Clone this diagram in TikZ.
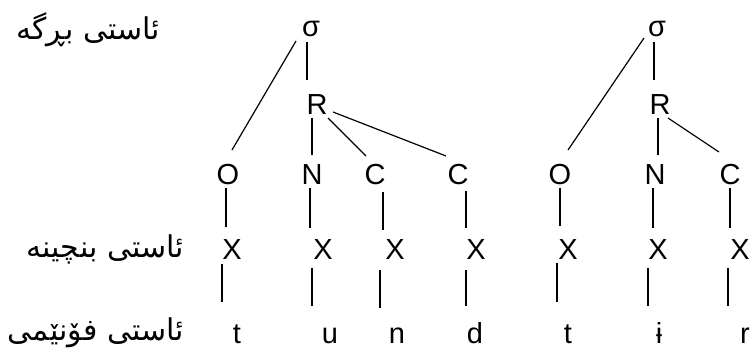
\documentclass[tikz,border=0pt]{standalone}
\usepackage{fontspec}
\setmainfont{Liberation Sans}
\newfontfamily\arabicfont[Script=Arabic]{DejaVu Sans}
\TeXXeTstate=1
\begin{document}
\begin{tikzpicture}[x=1pt,y=-1pt,
  lbl/.style={anchor=base,inner sep=0pt,font=\fontsize{29}{31}\selectfont},
  lev/.style={anchor=base east,inner sep=0pt,font=\arabicfont\fontsize{30}{34}\selectfont},
  br/.style={line width=1.2pt}]
\useasboundingbox (0,0) rectangle (754,352);
% level labels
\node[lev] (l1) at (160,40) {\beginR ئاستی بڕگە\endR};
\node[lev] (l2) at (184,258) {\beginR ئاستی بنچینە\endR};
\node[lev] (l3) at (184,340) {\beginR ئاستی فۆنێمی\endR};
% tree 1
\node[lbl] (s1) at (311,37) {σ};
\node[lbl] (r1) at (317,115) {R};
\node[lbl] (o1) at (228,185) {O};
\node[lbl] (n1) at (312,185) {N};
\node[lbl] (c1) at (375,185) {C};
\node[lbl] (c2) at (458,185) {C};
% tree 2
\node[lbl] (s2) at (657,37) {σ};
\node[lbl] (r2) at (660,115) {R};
\node[lbl] (o2) at (560,185) {O};
\node[lbl] (n2) at (655,185) {N};
\node[lbl] (c3) at (730,185) {C};
% skeleton
\node[lbl] (x1) at (232,260) {X};
\node[lbl] (x2) at (323,260) {X};
\node[lbl] (x3) at (395,260) {X};
\node[lbl] (x4) at (476,260) {X};
\node[lbl] (x5) at (568,260) {X};
\node[lbl] (x6) at (658,260) {X};
\node[lbl] (x7) at (740,260) {X};
% segments
\node[lbl] (p1) at (237,343) {t};
\node[lbl] (p2) at (330,343) {u};
\node[lbl] (p3) at (397,343) {n};
\node[lbl] (p4) at (475,343) {d};
\node[lbl] (p5) at (568,343) {t};
\node[lbl] (p6) at (659,343) {ɨ};
\node[lbl] (p7) at (745,343) {r};
% connectors tree 1
\draw[br] ([shift={(-15,4)}]s1.base) -- ([shift={(4,-35)}]o1.base);
\draw[br] ([shift={(-4,5)}]s1.base) -- ([shift={(-10,-35)}]r1.base);
\draw[br] ([shift={(-5,3)}]r1.base) -- ([shift={(0,-30)}]n1.base);
\draw[br] ([shift={(11,3)}]r1.base) -- ([shift={(-9,-29)}]c1.base);
\draw[br] ([shift={(16,-3)}]r1.base) -- ([shift={(-12,-29)}]c2.base);
\draw[br] ([shift={(-2,3)}]o1.base) -- ([shift={(-6,-33)}]x1.base);
\draw[br] ([shift={(-2,3)}]n1.base) -- ([shift={(-13,-32)}]x2.base);
\draw[br] ([shift={(8,7)}]c1.base) -- ([shift={(-12,-30)}]x3.base);
\draw[br] ([shift={(8,6)}]c2.base) -- ([shift={(-10,-32)}]x4.base);
\draw[br] ([shift={(-10,4)}]x1.base) -- ([shift={(-15,-41)}]p1.base);
\draw[br] ([shift={(-11,8)}]x2.base) -- ([shift={(-18,-37)}]p2.base);
\draw[br] ([shift={(-15,10)}]x3.base) -- ([shift={(-17,-35)}]p3.base);
\draw[br] ([shift={(-10,10)}]x4.base) -- ([shift={(-9,-37)}]p4.base);
% connectors tree 2
\draw[br] ([shift={(-13,1)}]s2.base) -- ([shift={(8,-35)}]o2.base);
\draw[br] ([shift={(-3,5)}]s2.base) -- ([shift={(-6,-35)}]r2.base);
\draw[br] ([shift={(-2,3)}]r2.base) -- ([shift={(3,-30)}]n2.base);
\draw[br] ([shift={(8,3)}]r2.base) -- ([shift={(-11,-33)}]c3.base);
\draw[br] ([shift={(0,3)}]o2.base) -- ([shift={(-8,-34)}]x5.base);
\draw[br] ([shift={(-2,3)}]n2.base) -- ([shift={(-5,-32)}]x6.base);
\draw[br] ([shift={(0,3)}]c3.base) -- ([shift={(-10,-32)}]x7.base);
\draw[br] ([shift={(-11,3)}]x5.base) -- ([shift={(-11,-41)}]p5.base);
\draw[br] ([shift={(-10,8)}]x6.base) -- ([shift={(-11,-37)}]p6.base);
\draw[br] ([shift={(-12,8)}]x7.base) -- ([shift={(-17,-37)}]p7.base);
\end{tikzpicture}
\end{document}
